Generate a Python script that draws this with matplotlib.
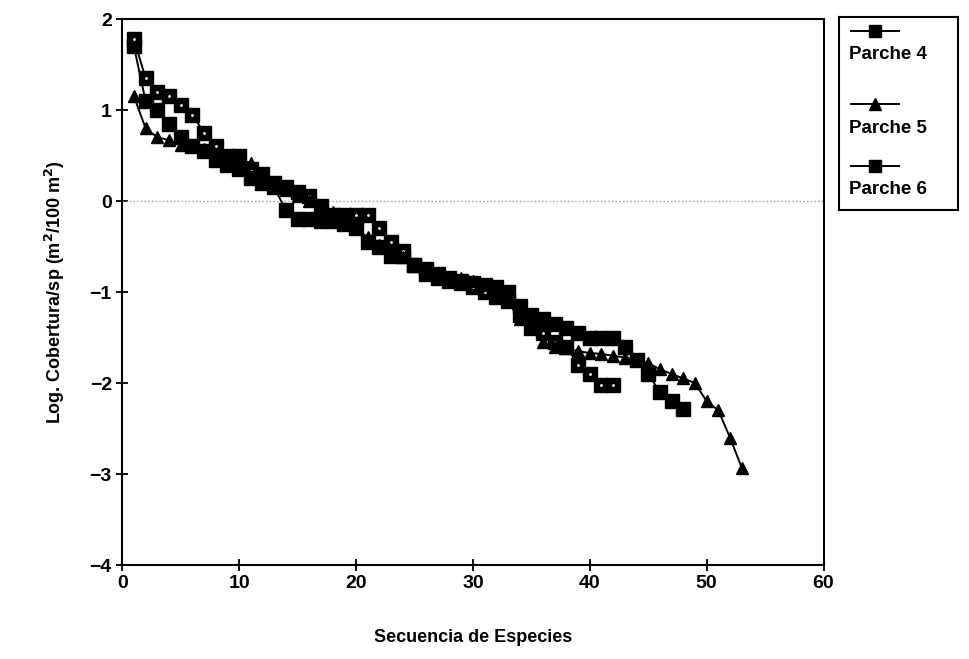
import matplotlib
matplotlib.use("Agg")
import matplotlib.pyplot as plt
from matplotlib.lines import Line2D

plt.rcParams['font.family'] = ['Liberation Sans', 'DejaVu Sans']
plt.rcParams['font.weight'] = 'bold'

# Data (species rank vs log cover)
parche4 = [1.70, 1.10, 1.00, 0.85, 0.70, 0.60, 0.55, 0.45, 0.40, 0.35,
           0.25, 0.20, 0.15, -0.10, -0.20, -0.20, -0.22, -0.22, -0.25, -0.30,
           -0.45, -0.50, -0.60, -0.60, -0.70, -0.75, -0.80, -0.85, -0.88, -0.90,
           -0.92, -0.95, -1.00, -1.15, -1.25, -1.30, -1.35, -1.40, -1.45, -1.50,
           -1.50, -1.50, -1.60, -1.75, -1.90, -2.10, -2.20, -2.28]
parche5 = [1.15, 0.80, 0.70, 0.67, 0.62, 0.60, 0.57, 0.52, 0.48, 0.45,
           0.42, 0.30, 0.20, 0.12, 0.05, 0.00, -0.05, -0.12, -0.20, -0.30,
           -0.40, -0.48, -0.55, -0.62, -0.70, -0.75, -0.80, -0.83, -0.85, -0.88,
           -0.92, -1.00, -1.10, -1.30, -1.40, -1.55, -1.60, -1.62, -1.65, -1.67,
           -1.68, -1.70, -1.72, -1.75, -1.78, -1.85, -1.90, -1.95, -2.00, -2.20,
           -2.30, -2.60, -2.93]
parche6 = [1.78, 1.35, 1.20, 1.15, 1.05, 0.95, 0.75, 0.60, 0.50, 0.50,
           0.35, 0.30, 0.20, 0.15, 0.10, 0.05, -0.05, -0.15, -0.15, -0.15,
           -0.15, -0.30, -0.45, -0.55, -0.70, -0.80, -0.85, -0.88, -0.90, -0.95,
           -1.00, -1.05, -1.10, -1.25, -1.40, -1.45, -1.55, -1.60, -1.80, -1.90,
           -2.02, -2.02]
labels = ["Parche 4", "Parche 5", "Parche 6"]

x4 = list(range(1, len(parche4) + 1))
x5 = list(range(1, len(parche5) + 1))
x6 = list(range(1, len(parche6) + 1))

fig = plt.figure(figsize=(9.7, 6.59), dpi=100)
ax = fig.add_axes([0.126, 0.1426, 0.723, 0.8285])

ax.axhline(0, color='#999999', lw=1, ls=':')

ax.plot(x4, parche4, color='black', lw=1.4, marker='s', ms=10, mfc='black', mec='black')
ax.plot(x6, parche6, color='black', lw=1.4, marker='s', ms=10, mfc='black', mec='black')
ax.plot(x6, parche6, ls='none', marker='.', ms=2, color='white')
ax.plot(x5, parche5, color='black', lw=1.4, marker='^', ms=9, mfc='black', mec='black')

ax.set_xlim(0, 60)
ax.set_ylim(-4, 2)
ax.set_xticks(range(0, 61, 10))
ax.set_yticks(range(-4, 3))
ax.set_yticklabels([str(v).replace('-', '\u2212') for v in range(-4, 3)])
ax.tick_params(direction='inout', length=8, width=1.3, labelsize=14)
for s in ax.spines.values():
    s.set_linewidth(1.5)

ax.set_xlabel("Secuencia de Especies", fontsize=13, fontweight='bold', labelpad=26)
ax.set_ylabel("Log. Cobertura/sp (m$^\\mathbf{2}$/100 m$^\\mathbf{2}$)", fontsize=13,
              fontweight='bold', labelpad=16)

# legend drawn as its own boxed panel: marker line above each label
lax = fig.add_axes([0.865, 0.681, 0.1227, 0.293])
lax.set_xlim(0, 1)
lax.set_ylim(0, 1)
lax.set_xticks([])
lax.set_yticks([])
for s in lax.spines.values():
    s.set_linewidth(1.5)
markers = ['s', '^', 's']
msizes = [9, 8, 9]
rows = [0.93, 0.55, 0.23]
for lab, m, ms, yl in zip(labels, markers, msizes, rows):
    lax.add_line(Line2D([0.1, 0.3, 0.5], [yl, yl, yl], color='black', lw=1.4,
                        marker=m, ms=ms, markevery=[1], mfc='black', mec='black'))
    lax.text(0.08, yl - 0.125, lab, fontsize=13.5, fontweight='bold', va='center', ha='left')

fig.savefig("out.png", dpi=100)
